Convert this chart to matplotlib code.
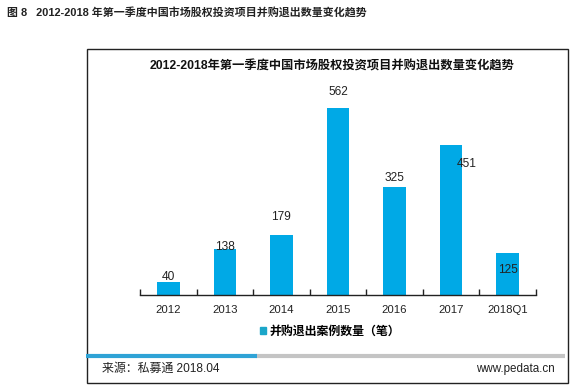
import matplotlib
matplotlib.use('Agg')
import matplotlib.pyplot as plt
import matplotlib.patches as patches
from matplotlib.lines import Line2D
import numpy as np

plt.rcParams['font.family'] = ['Liberation Sans', 'Noto Sans CJK SC', 'DejaVu Sans']

years = ['2012', '2013', '2014', '2015', '2016', '2017', '2018Q1']
counts = [40, 138, 179, 562, 325, 451, 125]
series_name = '并购退出案例数量（笔）'
fig_title = '图 8   2012-2018 年第一季度中国市场股权投资项目并购退出数量变化趋势'
chart_title = '2012-2018年第一季度中国市场股权投资项目并购退出数量变化趋势'
source_text = '来源：私募通 2018.04'
site_text = 'www.pedata.cn'

# label offsets in pixels (dx, dy) relative to bar top
label_off = [(0, 5), (0, 2), (0, 18), (0, 16), (0, 9), (16, -19), (0, -17)]

W, H = 574, 392
fig = plt.figure(figsize=(W / 100, H / 100), dpi=100)

def fx(px):
    return px / W

def fy(py):
    return 1 - py / H

# outer figure title
fig.text(fx(7), fy(12), fig_title, fontsize=7.9, fontweight='bold',
         ha='left', va='center', color='#222222')

# frame box
box = patches.Rectangle((fx(87), fy(383)), fx(568) - fx(87), fy(49) - fy(383),
                        transform=fig.transFigure, fill=False, edgecolor='#222222',
                        linewidth=1.0)
fig.add_artist(box)

# chart title
fig.text(fx(332), fy(66), chart_title, fontsize=8.8, fontweight='bold',
         ha='center', va='center', color='#111111')

# bars
ax = fig.add_axes([fx(140), fy(295), fx(536) - fx(140), fy(95) - fy(295)])
x = np.arange(len(years))
ax.bar(x, counts, width=0.4, color='#00A9E6')
ax.set_xlim(-0.5, len(years) - 0.5)
ax.set_ylim(0, 600)
for s in ['top', 'right', 'left']:
    ax.spines[s].set_visible(False)
ax.spines['bottom'].set_color('#222222')
ax.spines['bottom'].set_linewidth(1.0)
ax.set_yticks([])
ax.set_xticks(x)
ax.set_xticklabels(years, fontsize=8.2, color='#222222')
ax.tick_params(axis='x', which='major', length=0, pad=7)
ax.set_xticks(np.arange(-0.5, len(years)), minor=True)
ax.tick_params(axis='x', which='minor', direction='in', length=4, width=1.0, color='#222222')

for i, v in enumerate(counts):
    dx, dy = label_off[i]
    ax.annotate(str(v), xy=(i, v), xytext=(dx * 0.72, dy * 0.72),
                textcoords='offset points', ha='center', va='center',
                fontsize=8.6, color='#222222')

# legend
handle = patches.Rectangle((0, 0), 1, 1, color='#1BA6C9')
leg = fig.legend([handle], [series_name], loc='center', bbox_to_anchor=(fx(330), fy(332)),
                 frameon=False, handlelength=0.55, handleheight=0.55, handletextpad=0.25,
                 prop={'size': 8.6, 'weight': 'bold'})

# bottom colored bar
fig.add_artist(Line2D([fx(256), fx(565)], [fy(356), fy(356)], transform=fig.transFigure,
                      color='#C4C4C4', linewidth=3.0, solid_capstyle='butt'))
fig.add_artist(Line2D([fx(86), fx(257)], [fy(356), fy(356)], transform=fig.transFigure,
                      color='#2FA3D6', linewidth=3.0, solid_capstyle='butt'))

# footer
fig.text(fx(102), fy(369), source_text, fontsize=8.6, ha='left', va='center', color='#222222')
fig.text(fx(555), fy(369), site_text, fontsize=8.4, ha='right', va='center', color='#222222')

fig.savefig('out.png', dpi=100)
